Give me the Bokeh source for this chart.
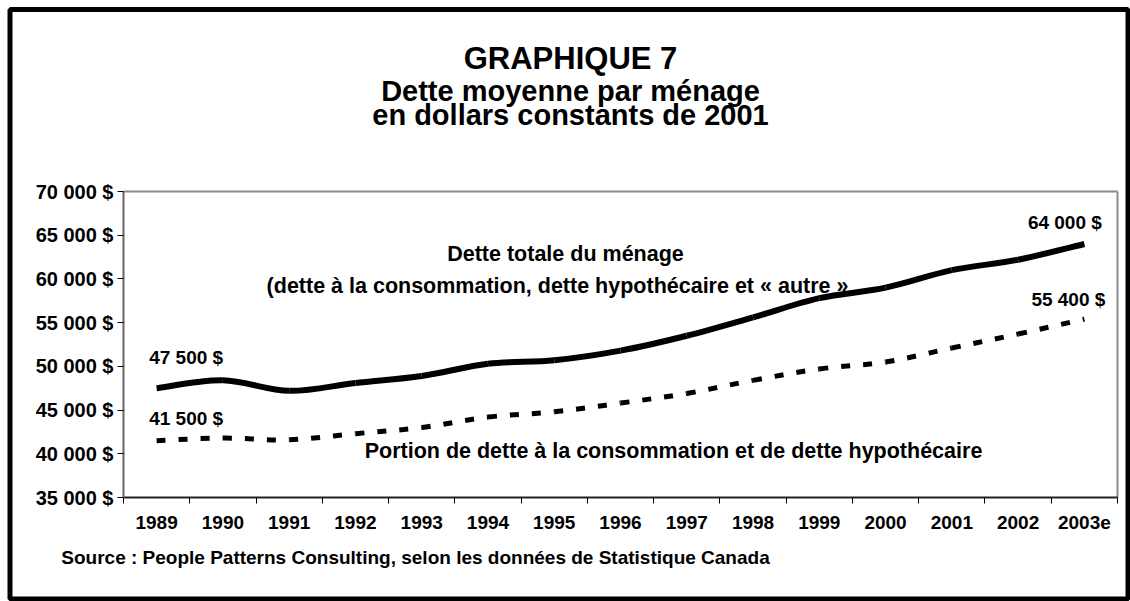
from bokeh.plotting import figure
from bokeh.models import Label, FixedTicker, BoxAnnotation, Range1d, LinearAxis
from bokeh.embed import file_html
from bokeh.resources import INLINE
import numpy as np

# ---------------- data ----------------
years = ["1989", "1990", "1991", "1992", "1993", "1994", "1995", "1996",
         "1997", "1998", "1999", "2000", "2001", "2002", "2003e"]
total_debt = [47500, 48400, 47200, 48100, 48900, 50300, 50700, 51800,
              53500, 55600, 57800, 59000, 61000, 62200, 64000]
cons_mort_debt = [41500, 41800, 41600, 42300, 43000, 44200, 44800, 45800,
                  46900, 48400, 49700, 50500, 52100, 53700, 55400]
y_ticks = [35000, 40000, 45000, 50000, 55000, 60000, 65000, 70000]
y_tick_labels = ["35 000 $", "40 000 $", "45 000 $", "50 000 $",
                 "55 000 $", "60 000 $", "65 000 $", "70 000 $"]
title_lines = ["GRAPHIQUE 7", "Dette moyenne par ménage",
               "en dollars constants de 2001"]
total_label = ["Dette totale du ménage",
               "(dette à  la consommation, dette hypothécaire et « autre »"]
cons_label = "Portion de dette à  la consommation et de dette hypothécaire"
source_text = "Source : People Patterns Consulting, selon les données de Statistique Canada"

FONT = "Liberation Sans"

def money(v):
    return f"{v:,.0f} $".replace(",", " ")

# ---------------- geometry (canvas px) ----------------
W, H = 1130, 601
FL, FR, FT, FB = 123, 1117, 191, 497      # plot box
n = len(years)
Y0, Y1 = y_ticks[0], y_ticks[-1]

def xd(px):
    return (px - FL) / (FR - FL) * n

def yd(py):
    return Y0 + (FB - py) / (FB - FT) * (Y1 - Y0)

p = figure(width=W, height=H,
           x_range=Range1d(xd(0), xd(W)), y_range=Range1d(yd(H), yd(0)),
           output_backend="svg", toolbar_location=None,
           x_axis_location=None, y_axis_location=None, min_border=0)
p.title.visible = False
p.xgrid.visible = False
p.ygrid.visible = False
p.background_fill_color = "white"
p.border_fill_color = "white"
p.outline_line_color = None

# y axis (fixed at the left edge of the plot box)
yaxis = LinearAxis(fixed_location=0, bounds=(Y0, Y1),
                   ticker=FixedTicker(ticks=y_ticks))
yaxis.major_label_overrides = {t: l for t, l in zip(y_ticks, y_tick_labels)}
yaxis.minor_tick_line_color = None
yaxis.major_tick_in = 0
yaxis.major_tick_out = 6
yaxis.major_tick_line_color = "black"
yaxis.axis_line_color = "#666666"
yaxis.axis_line_width = 2
yaxis.major_label_standoff = 4
yaxis.major_label_text_font = FONT
yaxis.major_label_text_font_style = "bold"
yaxis.major_label_text_font_size = "20px"
yaxis.major_label_text_color = "black"
p.add_layout(yaxis, "left")

# x axis: labels at category centres, ticks at category boundaries
centers = [i + 0.5 for i in range(n)]
bounds = list(range(n + 1))
xaxis = LinearAxis(fixed_location=Y0, bounds=(0, n),
                   ticker=FixedTicker(ticks=centers, minor_ticks=bounds))
xaxis.major_label_overrides = {c: y for c, y in zip(centers, years)}
xaxis.major_tick_line_color = None
xaxis.major_tick_in = 0
xaxis.major_tick_out = 0
xaxis.minor_tick_in = 0
xaxis.minor_tick_out = 6
xaxis.minor_tick_line_color = "black"
xaxis.axis_line_color = "#222222"
xaxis.axis_line_width = 2
xaxis.major_label_standoff = 12
xaxis.major_label_text_font = FONT
xaxis.major_label_text_font_style = "bold"
xaxis.major_label_text_font_size = "19px"
xaxis.major_label_text_color = "black"
p.add_layout(xaxis, "below")

# grey top and right edges of the plot box
p.segment(x0=[0, n], y0=[Y1, Y0], x1=[n, n], y1=[Y1, Y1],
          line_color="#8c8c8c", line_width=2)

# ---------------- smoothed lines (Catmull-Rom -> Bezier) ----------------
def bez(xs, ys):
    xs = np.asarray(xs, float)
    ys = np.asarray(ys, float)
    m = len(xs)
    d = dict(x0=[], y0=[], x1=[], y1=[], cx0=[], cy0=[], cx1=[], cy1=[])
    for i in range(m - 1):
        a = max(i - 1, 0)
        b = min(i + 2, m - 1)
        d["x0"].append(xs[i]); d["y0"].append(ys[i])
        d["x1"].append(xs[i + 1]); d["y1"].append(ys[i + 1])
        d["cx0"].append(xs[i] + (xs[i + 1] - xs[a]) / 6)
        d["cy0"].append(ys[i] + (ys[i + 1] - ys[a]) / 6)
        d["cx1"].append(xs[i + 1] - (xs[b] - xs[i]) / 6)
        d["cy1"].append(ys[i + 1] - (ys[b] - ys[i]) / 6)
    return d

p.bezier(**bez(centers, total_debt), line_color="black", line_width=6,
         line_cap="butt")
p.bezier(**bez(centers, cons_mort_debt), line_color="black", line_width=5,
         line_cap="butt", line_dash="9 13")

# ---------------- texts ----------------
def add_label(x, y, text, size, align="center", **kw):
    p.add_layout(Label(x=x, y=y, text=text, text_font=FONT,
                       text_font_style="bold", text_font_size=size,
                       text_color="black", text_align=align,
                       text_baseline="alphabetic", **kw))

add_label(xd(570), yd(58), title_lines[0], "31px")
add_label(xd(570), yd(90), title_lines[1], "29px")
add_label(xd(570), yd(114), title_lines[2], "29px")

add_label(xd(565), yd(253), total_label[0], "21.5px")
add_label(xd(560), yd(285), total_label[1], "21.5px")
add_label(xd(676), yd(450), cons_label, "21.5px")

add_label(xd(415), yd(557), source_text, "19px")

# value labels anchored to the first / last data points
add_label(centers[0], total_debt[0], money(total_debt[0]), "19px",
          x_offset=29.5, y_offset=31)
add_label(centers[0], cons_mort_debt[0], money(cons_mort_debt[0]), "19px",
          x_offset=29.5, y_offset=22)
add_label(centers[-1], total_debt[-1], money(total_debt[-1]), "19px",
          x_offset=-19.5, y_offset=21)
add_label(centers[-1], cons_mort_debt[-1], money(cons_mort_debt[-1]), "19px",
          x_offset=-16, y_offset=20)

# outer black frame
p.add_layout(BoxAnnotation(left=xd(9.5), right=xd(1127.5),
                           top=yd(9), bottom=yd(598.5),
                           fill_color=None, fill_alpha=0,
                           line_color="black", line_alpha=1.0,
                           line_width=5))

open("out.html", "w").write(file_html(p, INLINE))
